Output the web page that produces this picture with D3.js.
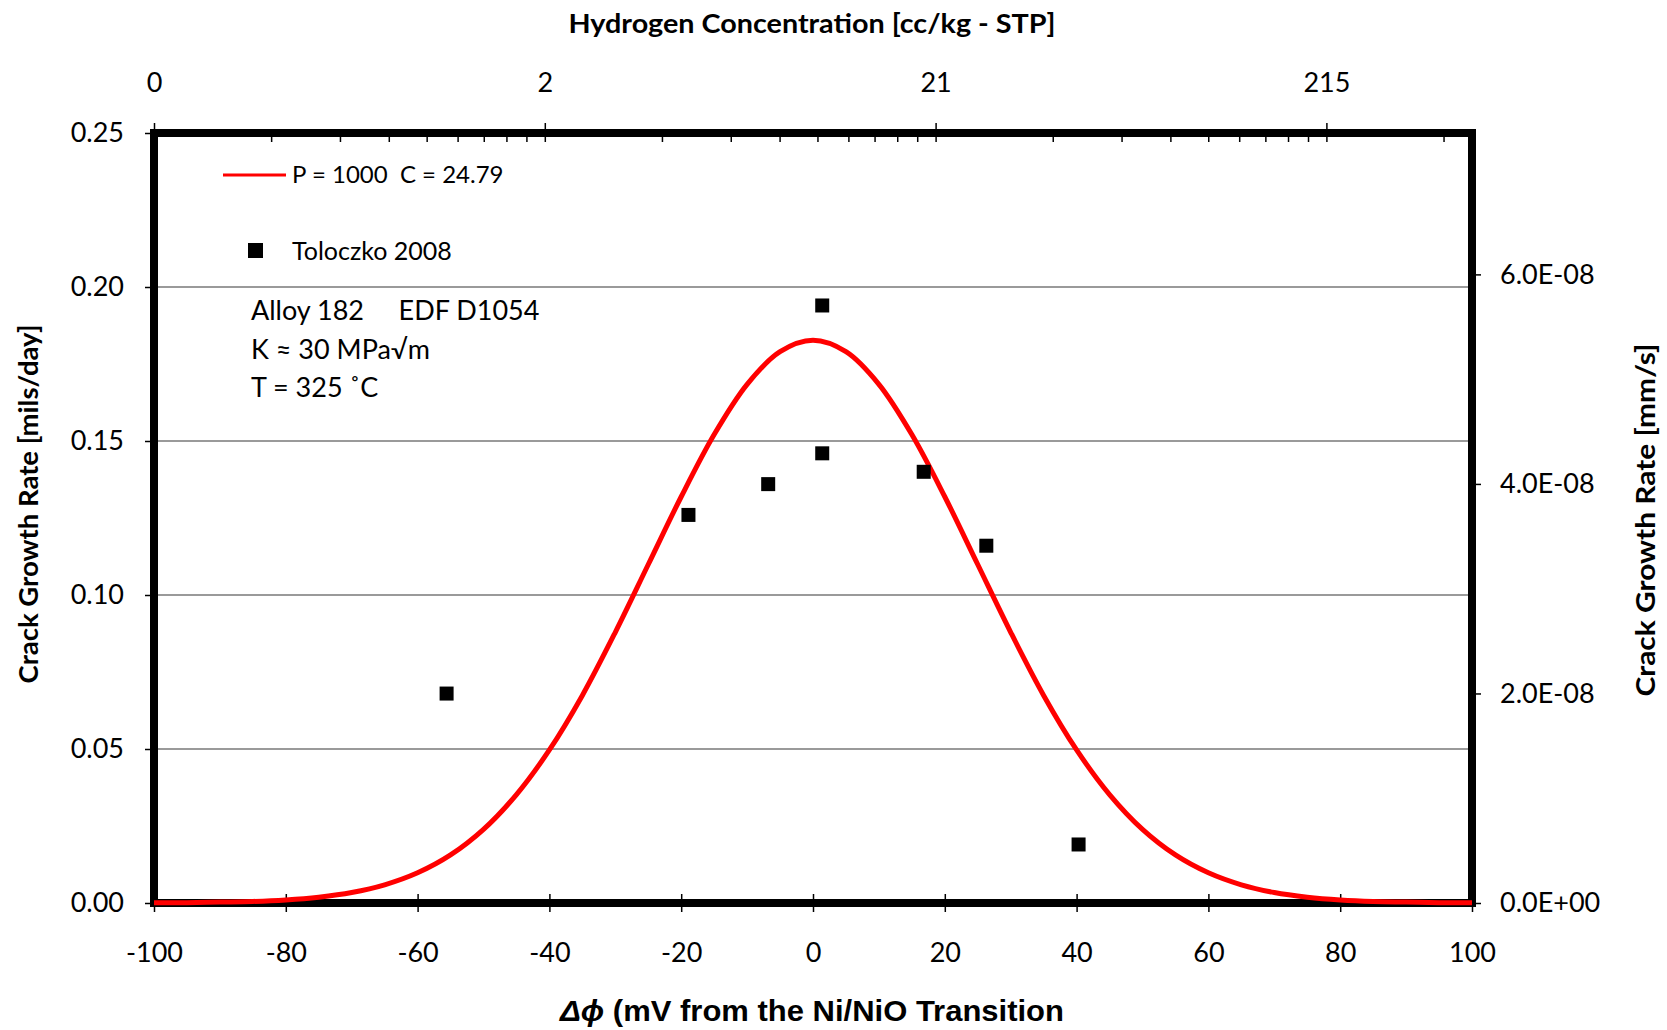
<!DOCTYPE html>
<html>
<head>
<meta charset="utf-8">
<script src="https://cdn.jsdelivr.net/npm/d3@7"></script>
<style>
  html, body { margin: 0; padding: 0; background: #fff; }
  svg { display: block; }
  text { font-family: Lato, "Open Sans", sans-serif; fill: #000; }
</style>
</head>
<body>
<svg id="chart" width="1667" height="1030"></svg>
<script>
// ---------------- data ----------------
// Toloczko 2008 measurements: potential difference (mV) and crack growth rate (mils/day)
const pointDphi = [-55.6, -18.9, -6.8, 1.4, 1.4, 16.8, 26.3, 40.3];
const pointCGR  = [0.068, 0.126, 0.136, 0.146, 0.194, 0.140, 0.116, 0.019];

// Model curve "P = 1000  C = 24.79" every 5 mV
const curveDphi = [-100,-95,-90,-85,-80,-75,-70,-65,-60,-55,-50,-45,-40,-35,-30,-25,-20,-15,-10,-5,0,
                   5,10,15,20,25,30,35,40,45,50,55,60,65,70,75,80,85,90,95,100];
const curveCGR  = [0.0001,0.0001,0.0003,0.0005,0.0010,0.0019,0.0034,0.0059,0.0098,0.0156,0.0239,0.0352,0.0497,0.0674,0.0879,0.1099,0.1319,0.1521,0.1684,0.1790,0.1827,
                   0.1790,0.1684,0.1521,0.1319,0.1099,0.0879,0.0674,0.0497,0.0352,0.0239,0.0156,0.0098,0.0059,0.0034,0.0019,0.0010,0.0005,0.0003,0.0001,0.0001];

// Axis ticks
const xTicks = [-100,-80,-60,-40,-20,0,20,40,60,80,100];
const xLabels = ["-100","-80","-60","-40","-20","0","20","40","60","80","100"];
const yTicks = [0, 0.05, 0.10, 0.15, 0.20, 0.25];
const gridTicks = [0.05, 0.10, 0.15, 0.20];
const yRightTicks = [0, 2e-8, 4e-8, 6e-8];
const yRightLabels = ["0.0E+00", "2.0E-08", "4.0E-08", "6.0E-08"];
const hTicks = [0.215, 2.15, 21.5, 215];
const hLabels = ["0", "2", "21", "215"];
const hDomain = [0.215, 507];

const legendLineLabel = "P = 1000\u00A0\u00A0C = 24.79";
const legendPointLabel = "Toloczko 2008";
const noteLines = ["Alloy 182\u00A0\u00A0\u00A0\u00A0\u00A0EDF D1054", "K \u2248 30 MPa\u221Am", "T = 325 \u02DAC"];

// ---------------- layout ----------------
const L = 154, R = 1472, T = 133, B = 903;
const svg = d3.select("#chart");

const x = d3.scaleLinear().domain([-100, 100]).range([L, R]);
const y = d3.scaleLinear().domain([0, 0.25]).range([B, T]);
const milsPerDayToMmPerS = 0.0254 / 86400;
const yR = d3.scaleLinear().domain([0, 0.25 * milsPerDayToMmPerS]).range([B, T]);
const xTop = d3.scaleLog().domain(hDomain).range([L, R]);

// gridlines
svg.append("g").selectAll("line").data(gridTicks).join("line")
  .attr("x1", L).attr("x2", R)
  .attr("y1", d => y(d)).attr("y2", d => y(d))
  .attr("stroke", "#9a9a9a").attr("stroke-width", 1.8);

// frame
svg.append("rect")
  .attr("x", L).attr("y", T).attr("width", R - L).attr("height", B - T)
  .attr("fill", "none").attr("stroke", "#000").attr("stroke-width", 8);

const tickFont = 27;

// left axis
const gLeft = svg.append("g").attr("transform", `translate(${L},0)`)
  .call(d3.axisLeft(y).tickValues(yTicks).tickFormat(d3.format(".2f")).tickSizeInner(9).tickSizeOuter(0).tickPadding(21));
gLeft.select(".domain").remove();
gLeft.selectAll("line").attr("stroke", "#000").attr("stroke-width", 1.5);
gLeft.selectAll("text").style("font-size", tickFont + "px").style("font-family", "Lato");

// right axis
const gRight = svg.append("g").attr("transform", `translate(${R},0)`)
  .call(d3.axisRight(yR).tickValues(yRightTicks).tickFormat((d, i) => yRightLabels[i]).tickSizeInner(9).tickSizeOuter(0).tickPadding(19));
gRight.select(".domain").remove();
gRight.selectAll("line").attr("stroke", "#000").attr("stroke-width", 1.5);
gRight.selectAll("text").style("font-size", tickFont + "px").style("font-family", "Lato");

// bottom axis
const gBottom = svg.append("g").attr("transform", `translate(0,${B})`)
  .call(d3.axisBottom(x).tickValues(xTicks).tickFormat((d, i) => xLabels[i]).tickSizeInner(9).tickSizeOuter(0));
gBottom.select(".domain").remove();
gBottom.selectAll("line").attr("y1", -9).attr("stroke", "#000").attr("stroke-width", 1.5);
gBottom.selectAll("text").attr("y", 50).attr("dy", "0.35em")
  .style("font-size", tickFont + "px").style("font-family", "Lato");

// top axis (hydrogen concentration, log)
const gTop = svg.append("g").attr("transform", `translate(0,${T})`)
  .call(d3.axisTop(xTop).tickValues(hTicks).tickFormat((d, i) => hLabels[i]).tickSizeInner(10).tickSizeOuter(0));
gTop.select(".domain").remove();
gTop.selectAll("line").attr("y1", 9).attr("stroke", "#000").attr("stroke-width", 1.5);
gTop.selectAll("text").attr("y", -50).attr("dy", "0.35em")
  .style("font-size", tickFont + "px").style("font-family", "Lato");
const minorH = [];
hTicks.forEach(m => { for (let k = 2; k <= 9; k++) { const v = m * k; if (v < hDomain[1]) minorH.push(v); } });
svg.append("g").selectAll("line").data(minorH).join("line")
  .attr("x1", d => xTop(d)).attr("x2", d => xTop(d))
  .attr("y1", T).attr("y2", T + 9)
  .attr("stroke", "#000").attr("stroke-width", 1.5);

// model curve
const curveData = curveDphi.map((d, i) => [d, curveCGR[i]]);
svg.append("path").datum(curveData)
  .attr("fill", "none").attr("stroke", "#ff0000").attr("stroke-width", 5)
  .attr("stroke-linejoin", "round")
  .attr("d", d3.line().x(d => x(d[0])).y(d => y(d[1])).curve(d3.curveCatmullRom.alpha(0.5)));

// data points
const ms = 14;
svg.append("g").selectAll("rect").data(pointDphi.map((d, i) => [d, pointCGR[i]])).join("rect")
  .attr("x", d => x(d[0]) - ms / 2).attr("y", d => y(d[1]) - ms / 2)
  .attr("width", ms).attr("height", ms).attr("fill", "#000");

// legend
svg.append("line").attr("x1", 223).attr("x2", 286).attr("y1", 175).attr("y2", 175)
  .attr("stroke", "#ff0000").attr("stroke-width", 3);
svg.append("text").attr("x", 292).attr("y", 175).attr("dy", "0.35em")
  .style("font-size", "24px").text(legendLineLabel);
svg.append("rect").attr("x", 248).attr("y", 243).attr("width", 15).attr("height", 15).attr("fill", "#000");
svg.append("text").attr("x", 292).attr("y", 251).attr("dy", "0.35em")
  .style("font-size", "25px").text(legendPointLabel);

// annotation
svg.append("g").selectAll("text").data(noteLines).join("text")
  .attr("x", 251).attr("y", (d, i) => 311 + i * 38.5).attr("dy", "0.35em")
  .style("font-size", "27px")
  .text(d => d);

// axis titles
svg.append("text").attr("x", 812).attr("y", 24).attr("dy", "0.35em")
  .attr("text-anchor", "middle").style("font-size", "26px").style("font-weight", "bold")
  .attr("textLength", 487).attr("lengthAdjust", "spacingAndGlyphs")
  .text("Hydrogen Concentration [cc/kg - STP]");

svg.append("text").attr("transform", "translate(29,504) rotate(-90)").attr("dy", "0.35em")
  .attr("text-anchor", "middle").style("font-size", "27px").style("font-weight", "bold")
  .attr("textLength", 359).attr("lengthAdjust", "spacingAndGlyphs")
  .text("Crack Growth Rate [mils/day]");

svg.append("text").attr("transform", "translate(1646,520) rotate(-90)").attr("dy", "0.35em")
  .attr("text-anchor", "middle").style("font-size", "26px").style("font-weight", "bold")
  .attr("textLength", 353).attr("lengthAdjust", "spacingAndGlyphs")
  .text("Crack Growth Rate [mm/s]");

const bt = svg.append("text").attr("x", 812).attr("y", 1011).attr("dy", "0.35em")
  .attr("text-anchor", "middle")
  .style("font-family", "'Liberation Sans', Arial, sans-serif").style("font-size", "29px").style("font-weight", "bold")
  .attr("textLength", 504).attr("lengthAdjust", "spacingAndGlyphs");
bt.append("tspan").style("font-style", "italic").text("\u0394\u03D5");
bt.append("tspan").text(" (mV from the Ni/NiO Transition");
</script>
</body>
</html>
